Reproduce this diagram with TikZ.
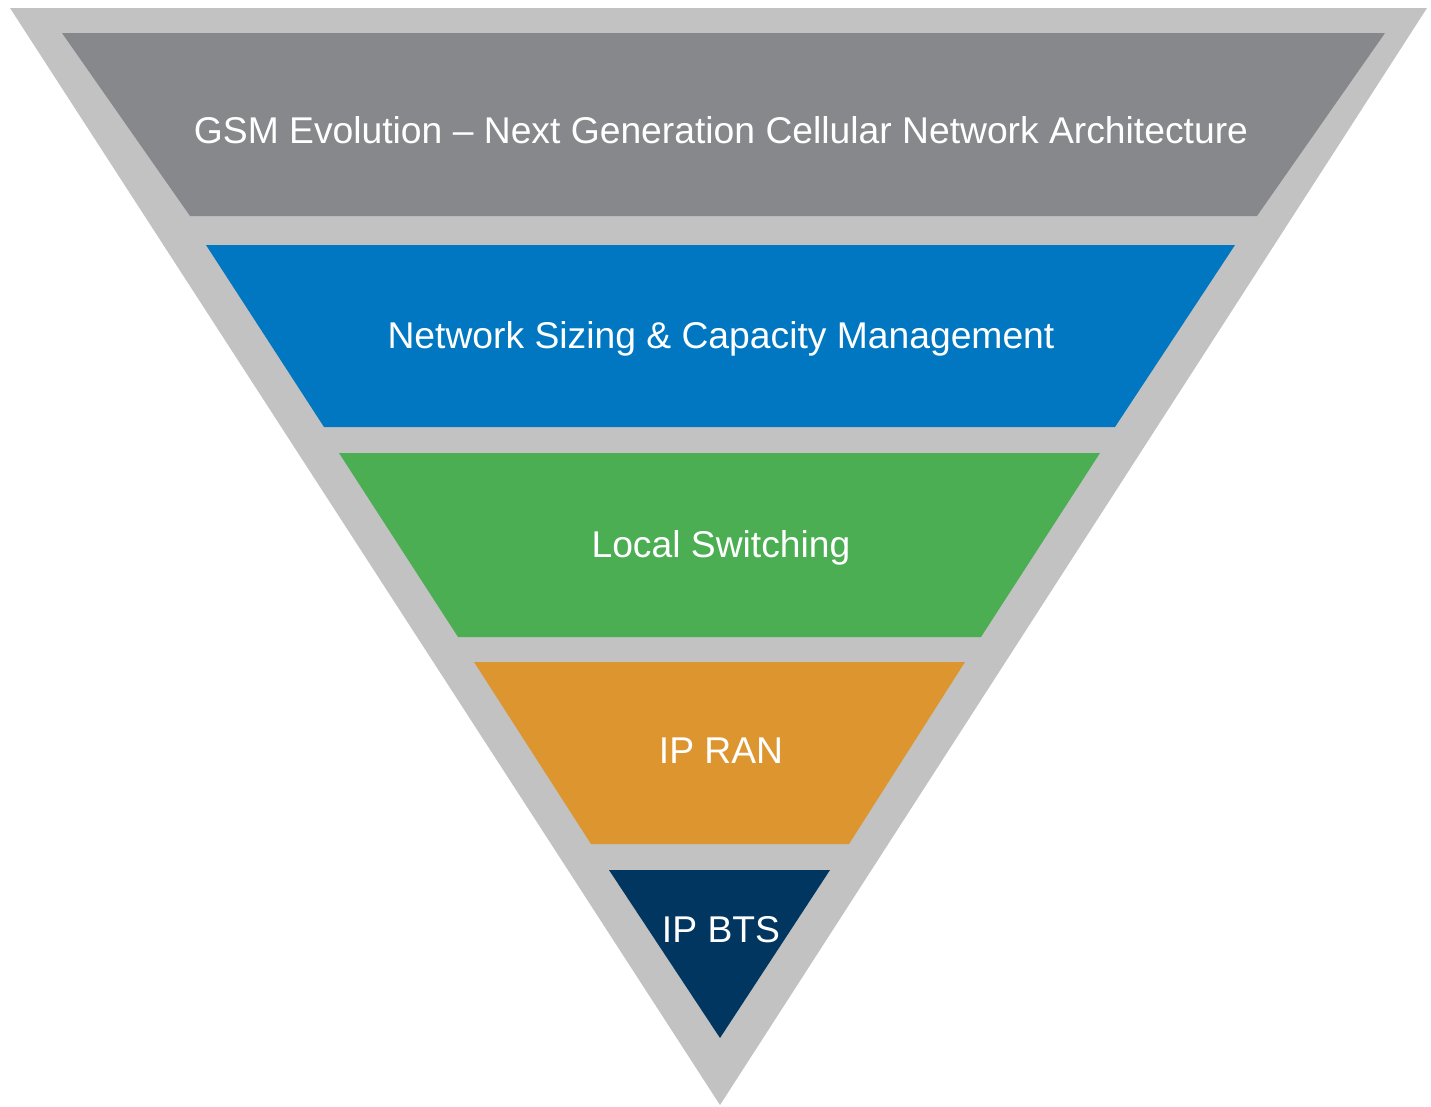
\documentclass[tikz,border=0pt]{standalone}
\usepackage{fontspec}
\setmainfont{Liberation Sans}
\definecolor{frame}{HTML}{C2C2C2}
\definecolor{topband}{HTML}{87888C}
\definecolor{blueband}{HTML}{0077C0}
\definecolor{greenband}{HTML}{4BAE53}
\definecolor{orangeband}{HTML}{DD962F}
\definecolor{navyband}{HTML}{003660}
\tikzset{
  band/.style={
    draw=none
  },
  label/.style={
    text=white,
    font=\fontsize{37.4}{44}\selectfont,
    inner sep=0pt,
    anchor=base
  }
}
\begin{document}
\begin{tikzpicture}[x=1bp, y=-1bp]

% Page frame, same size as the reference.
\useasboundingbox (0,0) rectangle (1431,1106);

% Outer grey triangle.
\fill[frame] (10,8) -- (1427,8) -- (720,1105) -- cycle;

% Bands, top to bottom.
\fill[band, topband] (62,33) -- (1385,33) -- (1257,216) -- (190,216) -- cycle;
\fill[band, blueband] (206,245) -- (1235,245) -- (1115,427) -- (324,427) -- cycle;
\fill[band, greenband] (339,453) -- (1100,453) -- (981,637) -- (458,637) -- cycle;
\fill[band, orangeband] (474,662) -- (965,662) -- (849,844) -- (591,844) -- cycle;
\fill[band, navyband] (609,870) -- (830,870) -- (720,1038) -- cycle;

% Labels (placed on their baselines).
\node[label] (gsm) at (721,143) {GSM Evolution – Next Generation Cellular Network Architecture};
\node[label] (sizing) at (721,348) {Network Sizing \& Capacity Management};
\node[label] (switching) at (721,557) {Local Switching};
\node[label] (ipran) at (721,763) {IP RAN};
\node[label] (ipbts) at (721,942) {IP BTS};

\end{tikzpicture}
\end{document}
